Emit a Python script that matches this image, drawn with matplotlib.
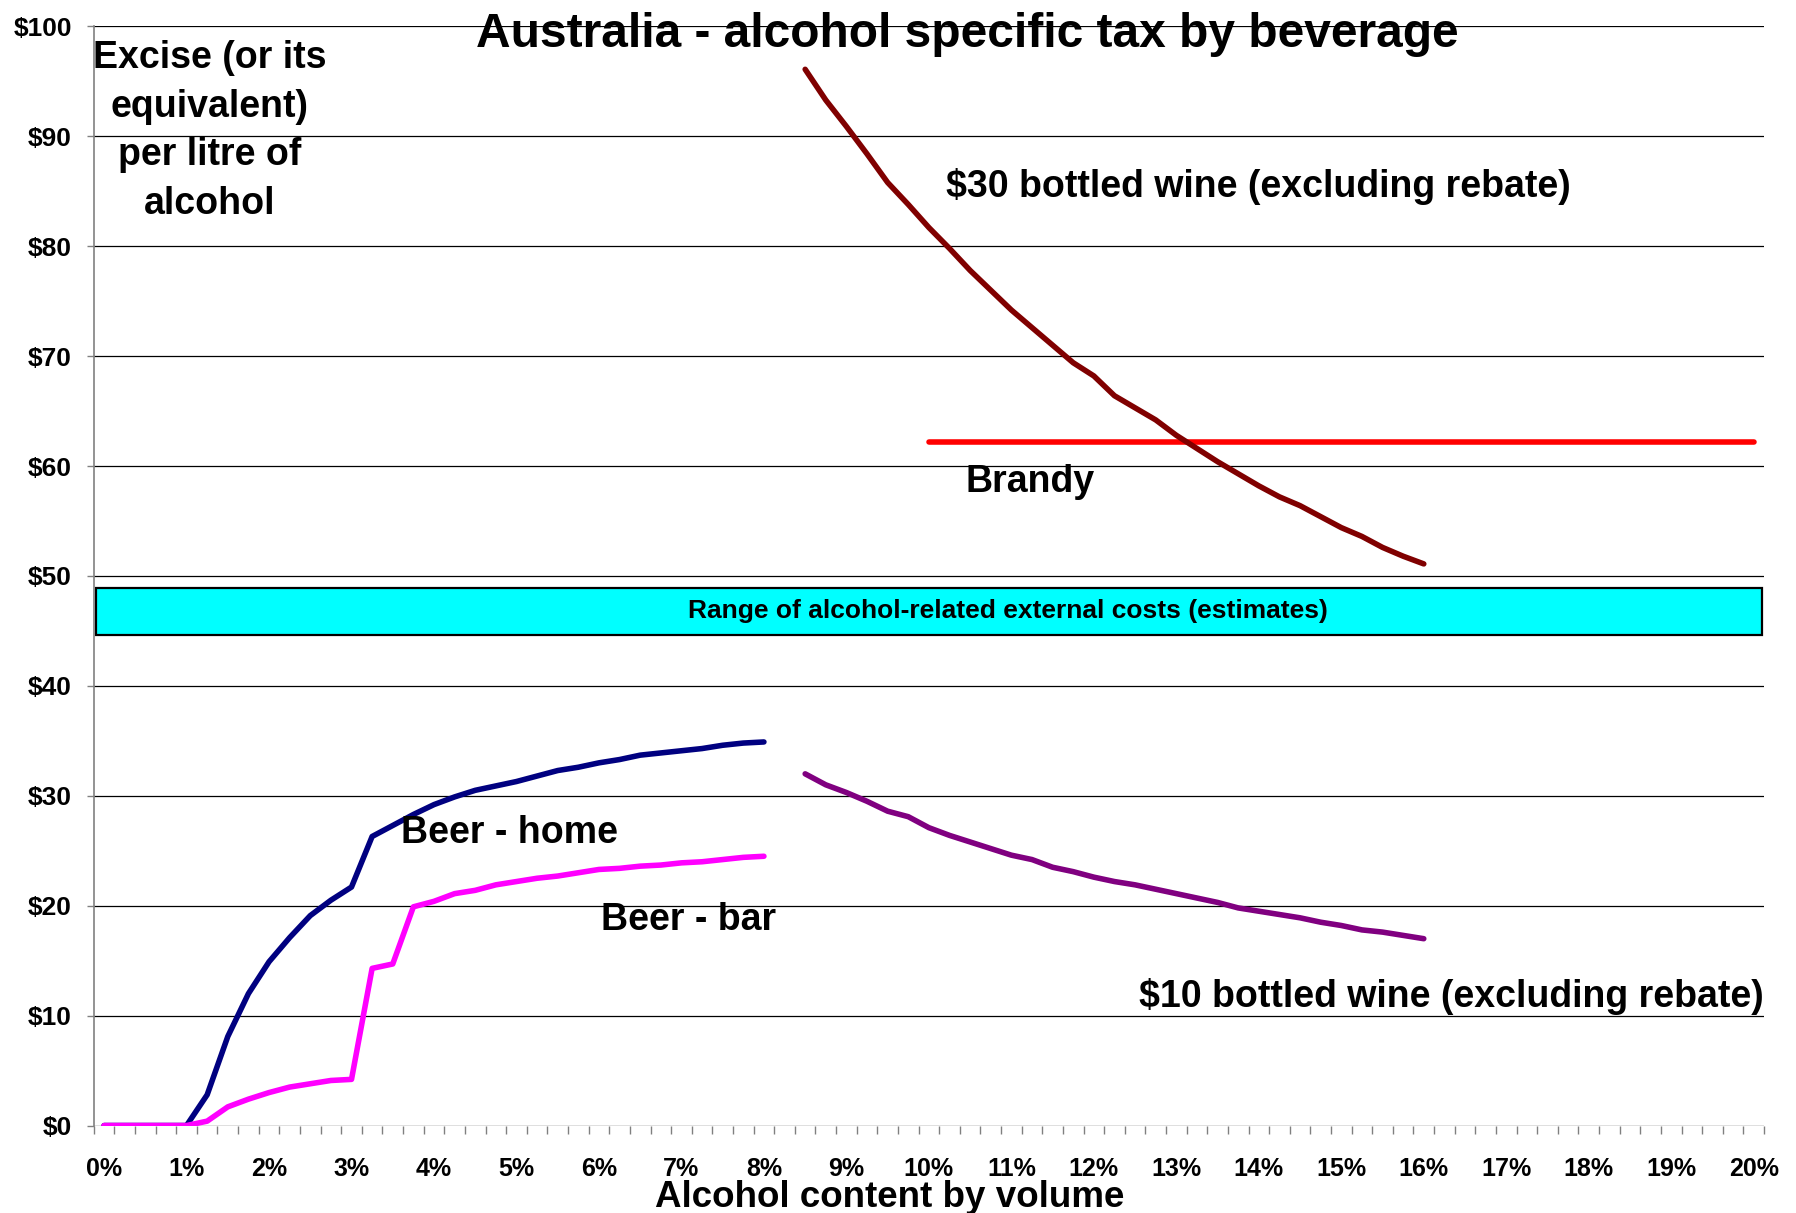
import numpy as np
import matplotlib
matplotlib.use("Agg")
import matplotlib.pyplot as plt
from matplotlib.patches import Rectangle

plt.rcParams['font.family'] = ['Liberation Sans', 'DejaVu Sans']
plt.rcParams['font.weight'] = 'bold'

# alcohol content (% by volume) for each series
beer_x = np.arange(0, 8.01, 0.25)
wine_x = np.arange(8.5, 16.01, 0.25)
brandy_x = [10.0, 20.0]

# excise per litre of alcohol ($)
beer_home = [0, 0, 0, 0, 0, 2.8, 8.1, 12.0, 14.9, 17.1, 19.1, 20.5, 21.7,
             26.3, 27.3, 28.3, 29.2, 29.9, 30.5, 30.9, 31.3, 31.8, 32.3, 32.6,
             33.0, 33.3, 33.7, 33.9, 34.1, 34.3, 34.6, 34.8, 34.9]
beer_bar = [0, 0, 0, 0, 0, 0.4, 1.7, 2.4, 3.0, 3.5, 3.8, 4.1, 4.2,
            14.3, 14.7, 19.9, 20.4, 21.1, 21.4, 21.9, 22.2, 22.5, 22.7, 23.0,
            23.3, 23.4, 23.6, 23.7, 23.9, 24.0, 24.2, 24.4, 24.5]
wine_30 = [96.1, 93.3, 90.9, 88.4, 85.8, 83.8, 81.7, 79.8, 77.8, 76.0, 74.2,
           72.6, 71.0, 69.4, 68.2, 66.4, 65.3, 64.2, 62.8, 61.6, 60.4, 59.3,
           58.2, 57.2, 56.4, 55.4, 54.4, 53.6, 52.6, 51.8, 51.1]
wine_10 = [32.0, 31.0, 30.3, 29.5, 28.6, 28.1, 27.1, 26.4, 25.8, 25.2, 24.6,
           24.2, 23.5, 23.1, 22.6, 22.2, 21.9, 21.5, 21.1, 20.7, 20.3, 19.8,
           19.5, 19.2, 18.9, 18.5, 18.2, 17.8, 17.6, 17.3, 17.0]
brandy = [62.2, 62.2]

# external cost range ($ per litre of alcohol)
ext_cost_low = 44.6
ext_cost_high = 48.9

x_labels = ['%d%%' % i for i in range(21)]
y_labels = ['$%d' % v for v in range(0, 101, 10)]

fig = plt.figure(figsize=(17.96, 12.13), dpi=100)
ax = fig.add_axes([0.0522, 0.0721, 0.930, 0.9061])

ax.set_xlim(-0.125, 20.125)
ax.set_ylim(0, 100)

# grid
for v in range(0, 101, 10):
    ax.axhline(v, color='black', lw=0.9, zorder=1)

for s in ['top', 'right', 'bottom']:
    ax.spines[s].set_visible(False)
ax.spines['left'].set_color('#808080')
ax.spines['left'].set_linewidth(1.2)

ax.set_xticks(range(21))
ax.set_xticklabels(x_labels, fontsize=18, fontweight='bold')
ax.set_xticks(np.arange(-0.125, 20.2, 0.25), minor=True)
ax.tick_params(axis='x', which='major', length=0, pad=23)
ax.tick_params(axis='x', which='minor', length=5.8, width=1, color='#808080')
ax.set_yticks(range(0, 101, 10))
ax.set_yticklabels(y_labels, fontsize=19, fontweight='bold')
ax.tick_params(axis='y', which='major', length=4.7, width=1, color='#808080', pad=11)

# range of external costs
band = Rectangle((-0.1, ext_cost_low), 20.2, ext_cost_high - ext_cost_low,
                 facecolor='#00FFFF', edgecolor='black', lw=1.6, zorder=2)
ax.add_patch(band)
ax.text(10.96, 46.8, 'Range of alcohol-related external costs (estimates)',
        ha='center', va='center', fontsize=19, fontweight='bold', zorder=3)

lw = 4.0
ax.plot(beer_x, beer_home, color='#000080', lw=lw, solid_capstyle='round', solid_joinstyle='round', zorder=4)
ax.plot(beer_x, beer_bar, color='#FF00FF', lw=lw, solid_capstyle='round', solid_joinstyle='round', zorder=5)
ax.plot(brandy_x, brandy, color='#FF0000', lw=lw, solid_capstyle='round', zorder=4)
ax.plot(wine_x, wine_30, color='#800000', lw=lw, solid_capstyle='round', solid_joinstyle='round', zorder=5)
ax.plot(wine_x, wine_10, color='#800080', lw=lw, solid_capstyle='round', solid_joinstyle='round', zorder=5)

lab = dict(fontsize=27, fontweight='bold', zorder=6)
ax.text(1.28, 90.5, 'Excise (or its\nequivalent)\nper litre of\nalcohol',
        ha='center', va='center', multialignment='center', linespacing=1.45, **lab)
ax.text(10.21, 85.45, '$30 bottled wine (excluding rebate)', ha='left', va='center', **lab)
ax.text(10.44, 58.55, 'Brandy', ha='left', va='center', **lab)
ax.text(3.60, 26.58, 'Beer - home', ha='left', va='center', **lab)
ax.text(6.03, 18.7, 'Beer - bar', ha='left', va='center', **lab)
ax.text(20.125, 11.75, '$10 bottled wine (excluding rebate)', ha='right', va='center', **lab)

fig.text(0.5387, 0.9613, 'Australia - alcohol specific tax by beverage',
         ha='center', va='baseline', fontsize=34.5, fontweight='bold')
fig.text(0.4955, 0.005, 'Alcohol content by volume',
         ha='center', va='baseline', fontsize=26.5, fontweight='bold')

fig.savefig('out.png', dpi=100)
